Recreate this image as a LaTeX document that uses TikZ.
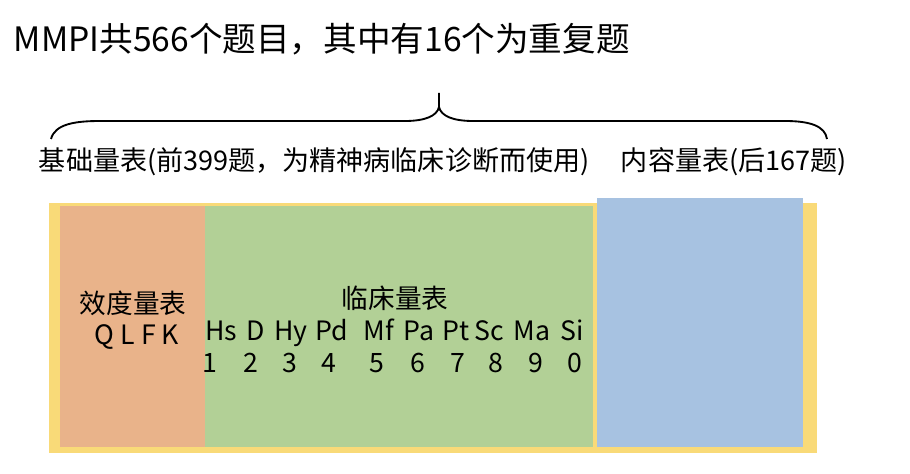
\documentclass[tikz,border=0pt]{standalone}
\usepackage{fontspec}
\newfontfamily\cjk{Noto Sans CJK SC}
\definecolor{huang}{HTML}{F9DA78}
\definecolor{cheng}{HTML}{E9B38A}
\definecolor{lv}{HTML}{B2D096}
\definecolor{lan}{HTML}{A7C2E1}
\begin{document}
\begin{tikzpicture}[x=0.75pt, y=-0.75pt, line width=1.4pt, every node/.style={font=\cjk\fontsize{20}{24}\selectfont, inner sep=0pt}]
	\useasboundingbox (0,0) rectangle (910,474);
	% 1. 色块 (置于底层)
	\fill[huang] (49,203) rectangle (817,453);
	\fill[cheng] (60,206) rectangle (205,447);
	\fill[lv] (205,206) rectangle (593,447);
	\fill[lan] (597,198) rectangle (803,447);
	
	% 2. 标题与大括号
	\node[anchor=base west, font=\cjk\fontsize{25.2}{29}\selectfont] (title) at (13,52) {MMPI共566个题目，其中有16个为重复题};
	\draw (51,139) .. controls (55,124) and (75,121) .. (100,121) -- (405,121)
		.. controls (425,121) and (437,116) .. (439,107) -- (439,93);
	\draw (439,107) .. controls (441,116) and (453,121) .. (473,121) -- (785,121)
		.. controls (810,121) and (825,126) .. (827,139);
	\node[anchor=base west, font=\cjk\fontsize{20.3}{24}\selectfont] (jichu) at (38,171) {基础量表(前399题，为精神病临床诊断而使用)};
	\node[anchor=base west, font=\cjk\fontsize{20.3}{24}\selectfont] (neirong) at (620,171) {内容量表(后167题)};
	
	% 3. 色块内文字
	\node (xiaodu) at (133,303) {效度量表};
	\node[anchor=base] (qlfk) at (137,344) {Q L F K};
	\node (linchuang) at (395,298) {临床量表};
	\foreach \ab/\xa/\nu/\xn [count=\i] in {Hs/221/1/210, D/256/2/251, Hy/291/3/290, Pd/332/4/329, Mf/379/5/377,
		Pa/419/6/418, Pt/456/7/458, Sc/489/8/496, Ma/532/9/536, Si/572/0/575}
	{
		\node[anchor=base] (ab\i) at (\xa,340) {\ab};
		\node[anchor=base] (nu\i) at (\xn,372) {\nu};
	}
\end{tikzpicture}
\end{document}
